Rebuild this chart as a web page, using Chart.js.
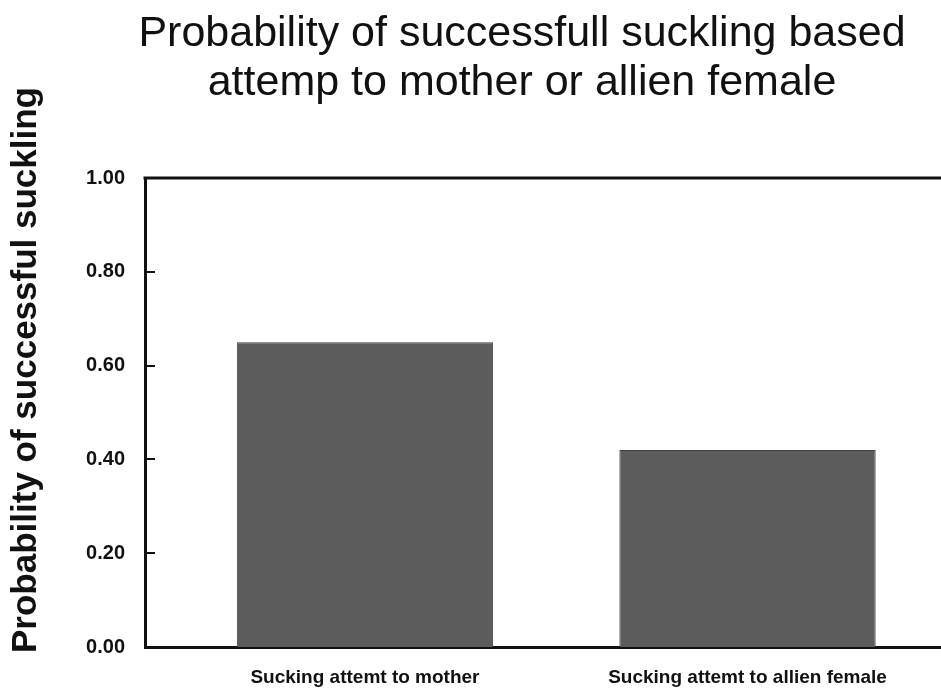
<!DOCTYPE html>
<html>
<head>
<meta charset="utf-8">
<script src="https://cdn.jsdelivr.net/npm/chart.js@4.4.0/dist/chart.umd.min.js"></script>
<style>
  html, body { margin: 0; padding: 0; background: #fff; overflow: hidden; }
  #wrap { width: 1044px; height: 696px; }
</style>
</head>
<body>
<div id="wrap"><canvas id="suckling-chart" width="1044" height="696"></canvas></div>
<script>
// categories and values
const categories = ['Sucking attemt to mother', 'Sucking attemt to allien female'];
const probabilities = [0.65, 0.42];
const yTicks = [0, 0.2, 0.4, 0.6, 0.8, 1.0];

const titleLines = ['Probability of successfull suckling based', 'attemp to mother or allien female'];
const yTitle = 'Probability of successful suckling';

const ink = '#111111';

// frame top line, inward tick marks and the rotated y title
const framePlugin = {
    id: 'frame',
    afterDraw(chart) {
        const ctx = chart.ctx;
        const area = chart.chartArea;
        const y = chart.scales.y;
        ctx.save();
        ctx.strokeStyle = ink;
        ctx.lineWidth = 3;
        ctx.beginPath();
        ctx.moveTo(area.left - 1.5, area.top);
        ctx.lineTo(area.right, area.top);
        ctx.stroke();

        ctx.lineWidth = 2;
        y.ticks.forEach(t => {
            if (t.value <= 0 || t.value >= 1) return;
            const py = Math.round(y.getPixelForValue(t.value));
            ctx.beginPath();
            ctx.moveTo(area.left, py);
            ctx.lineTo(area.left + 10, py);
            ctx.stroke();
        });

        ctx.fillStyle = ink;
        ctx.font = 'bold 35px "Liberation Sans", Arial, sans-serif';
        ctx.textAlign = 'center';
        ctx.textBaseline = 'alphabetic';
        ctx.translate(36, 370);
        ctx.rotate(-Math.PI / 2);
        ctx.fillText(yTitle, 0, 0);
        ctx.restore();
    }
};

var ctx = document.getElementById('suckling-chart').getContext('2d');
var suckChart = new Chart(ctx, {
    type: 'bar',
    data: {
        datasets: [{
            data: probabilities.map((v, i) => ({ x: i, y: v })),
            backgroundColor: '#5c5c5c',
            borderColor: '#404040',
            borderWidth: 1,
            barPercentage: 0.67,
            categoryPercentage: 1
        }]
    },
    options: {
        responsive: false,
        animation: false,
        devicePixelRatio: 1,
        layout: { padding: { left: 0, right: 0, top: 0, bottom: 0 } },
        plugins: {
            legend: { display: false },
            tooltip: { enabled: false },
            title: {
                display: true,
                text: titleLines,
                color: ink,
                font: { family: '"Liberation Sans", Arial, sans-serif', size: 43, weight: 'normal', lineHeight: 1.14 },
                padding: { top: 10, bottom: 70 }
            }
        },
        scales: {
            x: {
                type: 'linear',
                offset: false,
                min: -0.575,
                max: 1.775,
                grid: { display: false, drawTicks: false },
                border: { display: true, color: ink, width: 3 },
                afterBuildTicks: s => { s.ticks = categories.map((c, i) => ({ value: i })); },
                afterFit: s => { s.height = 49; },
                ticks: {
                    color: ink,
                    padding: 19,
                    font: { family: '"Liberation Sans", Arial, sans-serif', size: 19, weight: 'bold' },
                    callback: v => categories[v] || ''
                }
            },
            y: {
                min: 0,
                max: 1,
                grid: { display: false, drawTicks: false },
                border: { display: true, color: ink, width: 3 },
                afterBuildTicks: s => { s.ticks = yTicks.map(v => ({ value: v })); },
                afterFit: s => { s.width = 145; },
                ticks: {
                    color: ink,
                    padding: 20,
                    font: { family: '"Liberation Sans", Arial, sans-serif', size: 20, weight: 'bold' },
                    callback: v => v.toFixed(2)
                }
            }
        }
    },
    plugins: [framePlugin]
});
</script>
</body>
</html>
